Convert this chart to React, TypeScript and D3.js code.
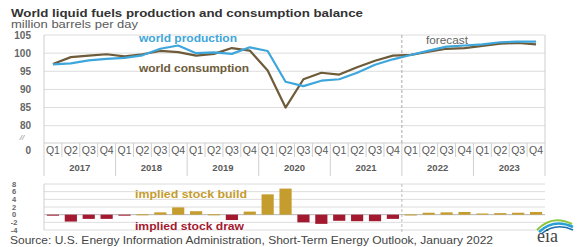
import React from "react";
import * as d3 from "d3";

const years = ["2017", "2018", "2019", "2020", "2021", "2022", "2023"];
const quarterNames = ["Q1", "Q2", "Q3", "Q4"];
const production = [96.9, 97.2, 98.0, 98.4, 98.7, 99.4, 101.2, 102.1, 100.0, 100.2, 99.8, 101.6, 100.6, 92.1, 90.9, 92.4, 92.8, 94.6, 96.8, 98.3, 99.5, 100.7, 101.8, 102.1, 102.4, 103.0, 103.2, 103.2];
const consumption = [97.0, 98.9, 99.3, 99.7, 99.1, 99.7, 100.6, 100.3, 99.3, 99.8, 101.4, 100.7, 95.2, 85.0, 92.8, 94.6, 94.1, 96.1, 97.9, 99.3, 99.5, 100.4, 101.2, 101.4, 102.0, 102.6, 102.8, 102.4];
const stockChange = [-0.1, -1.8, -1.1, -1.1, -0.1, 0.1, 0.6, 1.9, 0.9, 0.1, -1.4, 0.8, 5.3, 6.8, -2.0, -2.4, -1.6, -1.7, -1.7, -1.1, 0.05, 0.5, 0.6, 0.7, 0.3, 0.4, 0.5, 0.7];
const mainTicks = [80, 85, 90, 95, 100, 105];
const barTicks = [-4, -2, 0, 2, 4, 6, 8];
const forecastStart = "2022-Q1";

const keys = years.flatMap((y) => quarterNames.map((q) => `${y}-${q}`));

const FONT = "'Liberation Sans', Arial, sans-serif";
const BLUE = "#3ea6db";
const BROWN = "#6d5b3a";
const GOLD = "#c59c2e";
const RED = "#a3192f";
const GRID = "#dcdcdc";
const TXT = "#5a5a5a";

export default function App() {
  const W = 583, H = 247;
  const left = 44, right = 545;
  const x = d3.scaleBand<string>().domain(keys).range([left, right]).paddingInner(0).paddingOuter(0);
  const xb = d3.scaleBand<string>().domain(keys).range([left, right]).paddingInner(0.32).paddingOuter(0.16);
  const y = d3.scaleLinear().domain([80, 105]).range([125.7, 35]);
  const plotBottom = 143;
  const yb = d3.scaleLinear().domain([-4, 8]).range([230, 184]);

  const cx = (i: number) => (x(keys[i]) as number) + x.bandwidth() / 2;
  const line = d3.line<number>().x((_, i) => cx(i)).y((d) => y(d)).curve(d3.curveLinear);
  const fx = x(forecastStart) as number;

  return (
    <svg width={W} height={H} style={{ position: "absolute", left: 0, top: 0, background: "#fff" }} fontFamily={FONT}>
      <text x={11} y={17} fontSize={11.5} fontWeight="bold" fill="#333" textLength={352} lengthAdjust="spacingAndGlyphs">
        World liquid fuels production and consumption balance
      </text>
      <text x={11} y={28} fontSize={10.5} fill={TXT} textLength={127} lengthAdjust="spacingAndGlyphs">
        million barrels per day
      </text>

      {/* main grid */}
      {mainTicks.map((t) => (
        <g key={t}>
          <line x1={left} x2={right} y1={y(t)} y2={y(t)} stroke={GRID} strokeWidth={1} />
          <text x={31} y={y(t) + 3.5} textAnchor="end" fontSize={10} fontWeight="bold" fill="#666">{t}</text>
        </g>
      ))}
      <text x={22} y={140} textAnchor="middle" fontSize={8} fontStyle="italic" fill="#888">//</text>
      <text x={31} y={153.5} textAnchor="end" fontSize={10} fontWeight="bold" fill="#666">0</text>
      <line x1={left} x2={left} y1={y(105)} y2={plotBottom} stroke="#cfcfcf" />
      <line x1={right} x2={right} y1={y(105)} y2={plotBottom} stroke="#cfcfcf" />
      <line x1={left} x2={right} y1={plotBottom} y2={plotBottom} stroke="#cfcfcf" />

      {/* forecast */}
      <line x1={fx} x2={fx} y1={y(105)} y2={plotBottom} stroke="#aaa" strokeDasharray="3,2" />
      <text x={426} y={44} fontSize={10} fill="#666" textLength={42} lengthAdjust="spacingAndGlyphs">forecast</text>

      {/* lines */}
      <path d={line(consumption) || ""} fill="none" stroke={BROWN} strokeWidth={2.2} strokeLinejoin="round" />
      <path d={line(production) || ""} fill="none" stroke={BLUE} strokeWidth={2.2} strokeLinejoin="round" />
      <text x={139} y={42} fontSize={10.5} fontWeight="bold" fill={BLUE} textLength={98} lengthAdjust="spacingAndGlyphs">world production</text>
      <text x={139} y={72} fontSize={10.5} fontWeight="bold" fill={BROWN} textLength={110} lengthAdjust="spacingAndGlyphs">world consumption</text>

      {/* quarter axis */}
      {keys.map((k, i) => (
        <g key={k}>
          <line x1={x(k) as number} x2={x(k) as number} y1={plotBottom} y2={i % 4 === 0 ? 176 : 157} stroke="#cfcfcf" />
          <text x={cx(i)} y={154} textAnchor="middle" fontSize={10.5} fill={TXT} textLength={14} lengthAdjust="spacingAndGlyphs">{k.split("-")[1]}</text>
        </g>
      ))}
      <line x1={right} x2={right} y1={plotBottom} y2={176} stroke="#cfcfcf" />
      {years.map((yr) => {
        const x0 = x(`${yr}-Q1`) as number;
        return (
          <text key={yr} x={x0 + x.bandwidth() * 2} y={171} textAnchor="middle" fontSize={9.5} fontWeight="bold" fill={TXT}>{yr}</text>
        );
      })}

      {/* bar chart */}
      {barTicks.map((t) => (
        <line key={`g${t}`} x1={left} x2={right} y1={yb(t)} y2={yb(t)} stroke={t === 0 ? "#b5b5b5" : GRID} />
      ))}
      {barTicks.map((t) => (
        <text key={`l${t}`} x={14} y={yb(t) + 2.6} textAnchor="middle" fontSize={7.5} fontWeight="bold" fill="#666">{t}</text>
      ))}
      <line x1={left} x2={left} y1={yb(8)} y2={yb(-4)} stroke="#cfcfcf" />
      <line x1={fx} x2={fx} y1={yb(8)} y2={yb(-4) + 3} stroke="#bbb" strokeDasharray="3,2" />
      {stockChange.map((v, i) => (
        <rect key={i} x={xb(keys[i]) as number} width={xb.bandwidth()} y={Math.min(yb(v), yb(0))} height={Math.max(1, Math.abs(yb(v) - yb(0)))} fill={v >= 0 ? GOLD : RED} />
      ))}
      <text x={135} y={198} fontSize={10.5} fontWeight="bold" fill={GOLD} textLength={112} lengthAdjust="spacingAndGlyphs">implied stock  build</text>
      <text x={135} y={230} fontSize={10.5} fontWeight="bold" fill={RED} textLength={109} lengthAdjust="spacingAndGlyphs">implied stock draw</text>

      <text x={10} y={244} fontSize={10.5} fill="#444" textLength={483} lengthAdjust="spacingAndGlyphs">
        Source: U.S. Energy Information Administration, Short-Term Energy Outlook, January 2022
      </text>

      {/* eia logo */}
      <path d="M537,230 Q552,214 572,224" fill="none" stroke="#8cc63f" strokeWidth={2} />
      <path d="M539,232 Q554,218 573,227" fill="none" stroke="#2a9fd6" strokeWidth={2.5} />
      <path d="M541,234 Q556,222 573,230" fill="none" stroke="#1b6fae" strokeWidth={1.5} />
      <text x={537} y={242} fontSize={18} fontFamily="'Liberation Serif', 'DejaVu Serif', serif" fill="#444">eia</text>
    </svg>
  );
}
